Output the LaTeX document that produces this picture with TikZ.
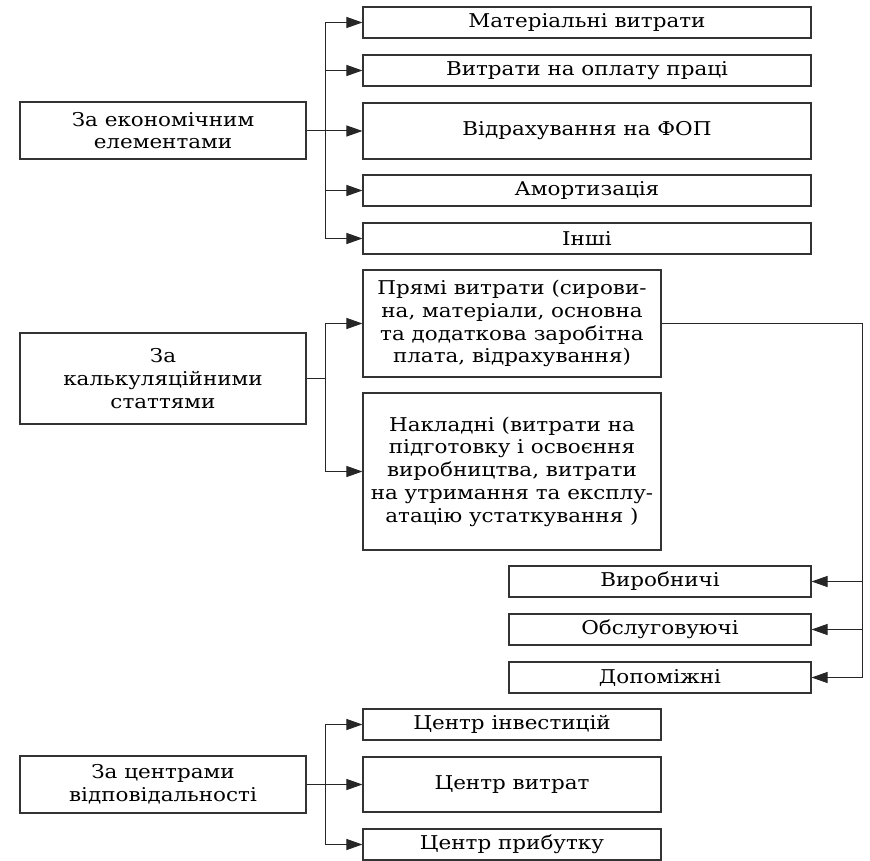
\documentclass[tikz,border=0pt]{standalone}
\usepackage{fontspec}
\setmainfont[FakeStretch=1.13]{DejaVu Serif}
\usetikzlibrary{arrows.meta,calc}
\begin{document}
\begin{tikzpicture}[x=1pt,y=-1pt,
  box/.style={draw=black!80,line width=1.1pt,inner sep=1pt,align=center,
    font=\fontsize{19}{22.8}\selectfont,text=black},
  lbox/.style={box,minimum width=286pt},
  rbox/.style={box,minimum width=448pt},
  mbox/.style={box,minimum width=298pt},
  sbox/.style={box,minimum width=302pt},
  arr/.style={draw=black!85,line width=1pt,-{Triangle[length=16pt,width=11pt]}},
  ln/.style={draw=black!85,line width=1pt}]
\useasboundingbox (0,0) rectangle (870,861);
% section 1
\node[lbox,minimum height=57pt] (L1) at (163,130.5) {За економічним\\елементами};
\node[rbox,minimum height=31pt] (R1) at (587,22.5) {Матеріальні витрати};
\node[rbox,minimum height=31pt] (R2) at (587,70.5) {Витрати на оплату праці};
\node[rbox,minimum height=56pt] (R3) at (587,131) {Відрахування на ФОП};
\node[rbox,minimum height=31pt] (R4) at (587,190.5) {Амортизація};
\node[rbox,minimum height=31pt] (R5) at (587,238.5) {Інші};
\foreach \n in {R1,R2,R3,R4,R5}
  \draw[arr] (L1.east) -- ++(19,0) |- (\n.west);
% section 2
\node[lbox,minimum height=91pt] (L2) at (163,378.5) {За\\калькуляційними\\статтями};
\node[mbox,minimum height=107pt] (P) at (512,323.5) {Прямі витрати (сирови-\\на, матеріали, основна\\та додаткова заробітна\\плата, відрахування)};
\node[mbox,minimum height=157pt] (N) at (512,471.5) {Накладні (витрати на\\підготовку і освоєння\\виробництва, витрати\\на утримання та експлу-\\атацію устаткування )};
\foreach \n in {P,N}
  \draw[arr] (L2.east) -- ++(19,0) |- (\n.west);
\node[sbox,minimum height=31pt] (V) at (660,581.5) {Виробничі};
\node[sbox,minimum height=31pt] (O) at (660,629.5) {Обслуговуючі};
\node[sbox,minimum height=31pt] (D) at (660,677.5) {Допоміжні};
\coordinate (bus) at ($(P.east)+(201,0)$);
\draw[ln] (P.east) -- (bus);
\foreach \n in {V,O,D}
  \draw[arr] (bus) |- (\n.east);
% section 3
\node[lbox,minimum height=57pt] (L3) at (163,784.5) {За центрами\\відповідальності};
\node[mbox,minimum height=31pt] (C1) at (512,724.5) {Центр інвестицій};
\node[mbox,minimum height=55pt] (C2) at (512,784.5) {Центр витрат};
\node[mbox,minimum height=31pt] (C3) at (512,844.5) {Центр прибутку};
\foreach \n in {C1,C2,C3}
  \draw[arr] (L3.east) -- ++(19,0) |- (\n.west);
\end{tikzpicture}
\end{document}
